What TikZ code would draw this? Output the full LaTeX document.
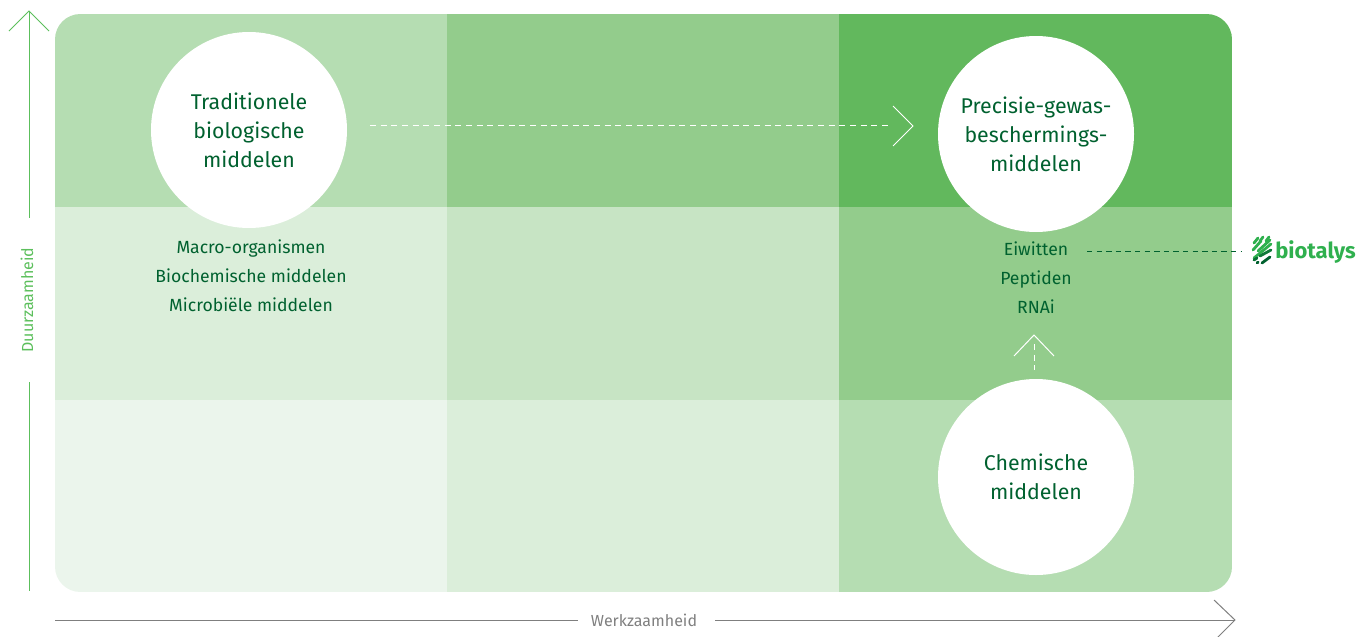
\documentclass[tikz,border=0pt]{standalone}
\usepackage{fontspec}
\setmainfont{Fira Sans}
\definecolor{cA}{HTML}{EBF5EC}
\definecolor{cB}{HTML}{DBEEDA}
\definecolor{cC}{HTML}{C7E4C4}
\definecolor{cD}{HTML}{B5DDB2}
\definecolor{cE}{HTML}{93CC8C}
\definecolor{cF}{HTML}{62B85D}
\definecolor{txt}{HTML}{00612F}
\definecolor{axg}{HTML}{5CBF5C}
\definecolor{axk}{HTML}{7F7F7F}
\definecolor{lg}{HTML}{2FB04E}
\tikzset{
  x=0.75pt,y=-0.75pt,
  cell/.style={fill=#1,draw=none},
  bubble/.style={circle,fill=white,minimum size=147pt,inner sep=0pt,align=center,text=txt,font=\fontsize{16}{21.8}\selectfont},
  sublabel/.style={align=center,text=txt,font=\fontsize{13.2}{21.8}\selectfont},
  axisgreen/.style={draw=axg,line width=0.75pt},
  axisgrey/.style={draw=axk,line width=0.75pt},
  whitedash/.style={draw=white,line width=0.75pt,dash pattern=on 4.5pt off 3.5pt},
  whitehead/.style={draw=white,line width=0.75pt},
  logostroke/.style={line width=2.1pt,line cap=round},
}
\begin{document}
\begin{tikzpicture}
\useasboundingbox (0,0) rectangle (1367,636);
\begin{scope}
\clip[rounded corners=19pt] (55,14) rectangle (1232,592);
\fill[cell=cD] (55,14) rectangle (447,207);
\fill[cell=cE] (447,14) rectangle (839,207);
\fill[cell=cF] (839,14) rectangle (1232,207);
\fill[cell=cB] (55,207) rectangle (447,400);
\fill[cell=cC] (447,207) rectangle (839,400);
\fill[cell=cE] (839,207) rectangle (1232,400);
\fill[cell=cA] (55,400) rectangle (447,592);
\fill[cell=cB] (447,400) rectangle (839,592);
\fill[cell=cD] (839,400) rectangle (1232,592);
\end{scope}
\node[bubble] (trad) at (249,130) {Traditionele\\biologische\\middelen};
\node[bubble,yshift=-3pt] (prec) at (1036,130) {Precisie-gewas-\\beschermings-\\middelen};
\node[bubble] (chem) at (1036,477) {Chemische\\middelen};
\node[sublabel] (subl) at (251,276) {Macro-organismen\\Biochemische middelen\\Microbiële middelen};
\node[sublabel] (subr) at (1036,278) {Eiwitten\\Peptiden\\RNAi};
% dashed arrows
\coordinate (h1) at (913,126);
\draw[whitedash] (370,125) -- (888,125);
\draw[whitehead] (893,106) -- (h1) -- (893,146);
\coordinate (h2) at (1034,335);
\draw[whitedash] (1034,344) -- (1034,370);
\draw[whitehead] (1014,356) -- (h2) -- (1054,356);
% logo
\coordinate (lstart) at (1087,251);
\coordinate (lend) at (1242,251);
\draw[txt,line width=0.75pt,dash pattern=on 4pt off 3.2pt] (lstart) -- (lend);
\begin{scope}[logostroke]
\draw[lg] (1254,243)--(1258,238);
\draw[lg] (1260,241)--(1263,237);
\draw[lg] (1266,241)--(1269,237);
\draw[lg] (1253,250)--(1261,241);
\draw[lg] (1258,251)--(1270,240);
\draw[lg] (1254,258)--(1271,244);
\draw[txt!70!lg] (1260,256)--(1271,250);
\draw[txt!80!lg] (1254,260)--(1257,258);
\draw[txt] (1262,263)--(1270,257);
\draw[txt] (1257,263)--(1258,262);
\end{scope}
\node[anchor=west,inner sep=0pt,text=lg,font=\fontsize{16.5}{18}\selectfont\bfseries] (logo) at (1275,252) {biotalys};
% axes
\coordinate (ytip) at (29,11);
\node[rotate=90,text=axg,font=\fontsize{12}{14}\selectfont,inner sep=0pt] (ylab) at (27,300) {Duurzaamheid};
\coordinate (ya) at (29,218);
\coordinate (yb) at (29,382);
\coordinate (yc) at (29,591);
\draw[axisgreen] (ytip) -- (ya);
\draw[axisgreen] (yb) -- (yc);
\draw[axisgreen] (9,31) -- (ytip) -- (49,31);
\node[text=axk,font=\fontsize{12}{14}\selectfont,inner sep=0pt] (xlab) at (644,620) {Werkzaamheid};
\coordinate (xa) at (55,620);
\coordinate (xb) at (578,620);
\coordinate (xc) at (715,620);
\coordinate (xtip) at (1235,620);
\draw[axisgrey] (xa) -- (xb);
\draw[axisgrey] (xc) -- (xtip);
\draw[axisgrey] (1214,600) -- (xtip) -- (1214,641);
\end{tikzpicture}
\end{document}
